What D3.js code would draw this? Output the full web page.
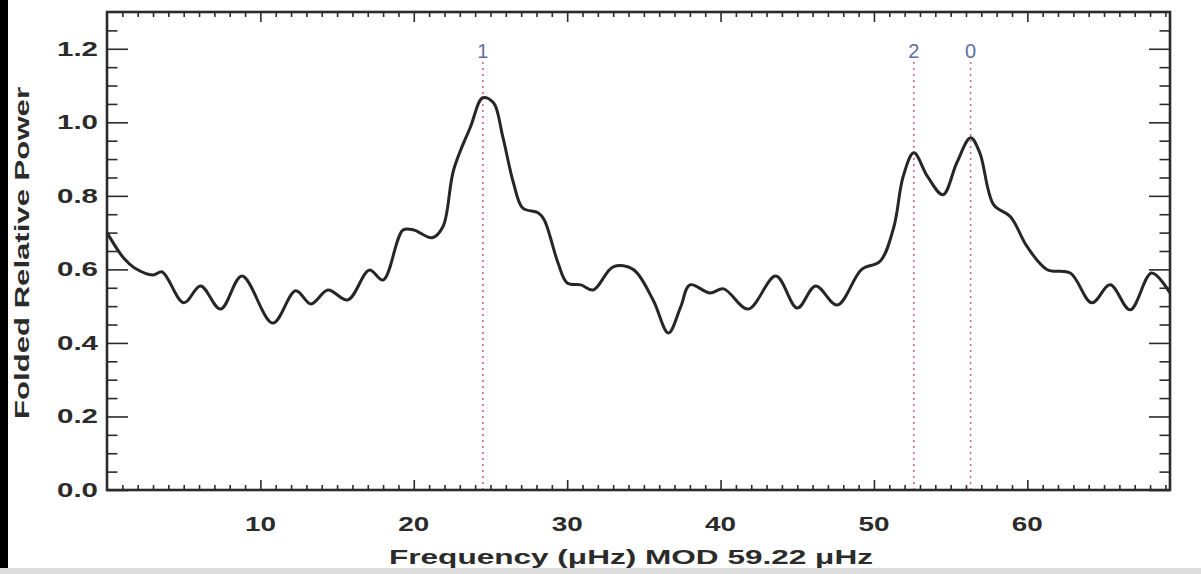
<!DOCTYPE html>
<html>
<head>
<meta charset="utf-8">
<script src="https://cdn.jsdelivr.net/npm/d3@7"></script>
<style>
  html, body { margin: 0; padding: 0; background: #fff; }
  svg { display: block; }
</style>
</head>
<body>
<svg id="chart" width="1201" height="574"></svg>
<script>
// ---- data ----
const freq = [0.0, 1.1, 1.8, 3.0, 3.6, 5.0, 6.1, 7.4, 8.8, 10.8, 12.3, 13.3, 14.4, 15.7, 17.1, 18.0,
  19.3, 20.0, 21.2, 21.9, 22.6, 23.7, 24.5, 25.2, 25.8, 26.5, 27.1, 28.1, 28.5, 29.4, 30.0, 30.9,
  31.7, 33.0, 34.3, 35.6, 36.6, 37.4, 38.0, 39.3, 40.2, 41.8, 43.6, 45.0, 46.2, 47.6, 49.2, 50.4,
  51.3, 51.9, 52.6, 53.5, 54.5, 55.4, 56.3, 56.9, 57.8, 58.9, 60.0, 61.3, 62.8, 64.2, 65.4, 66.7,
  68.1, 69.3];
const power = [0.70, 0.63, 0.604, 0.585, 0.593, 0.509, 0.555, 0.492, 0.582, 0.454, 0.542, 0.506, 0.544, 0.517, 0.598, 0.571,
  0.707, 0.707, 0.686, 0.716, 0.871, 0.988, 1.067, 1.053, 0.961, 0.835, 0.767, 0.754, 0.735, 0.618, 0.563, 0.558,
  0.544, 0.607, 0.600, 0.517, 0.427, 0.498, 0.558, 0.536, 0.547, 0.492, 0.582, 0.495, 0.555, 0.503, 0.600, 0.622,
  0.716, 0.852, 0.917, 0.852, 0.803, 0.890, 0.958, 0.917, 0.776, 0.743, 0.661, 0.599, 0.590, 0.509, 0.558, 0.490,
  0.590, 0.536];
const modeFreqs = [24.5, 52.6, 56.3];
const modeLabels = ["1", "2", "0"];
const xTicks = [10, 20, 30, 40, 50, 60];
const yTicks = [0.0, 0.2, 0.4, 0.6, 0.8, 1.0, 1.2];
const xDomain = [0, 69.3];
const yDomain = [0, 1.3];
const xTitle = "Frequency (\u03bcHz) MOD 59.22 \u03bcHz";
const yTitle = "Folded Relative Power";

// ---- layout ----
const L = 107, R = 1170, T = 12, B = 490;
const svg = d3.select("#chart");
const x = d3.scaleLinear().domain(xDomain).range([L, R]);
const y = d3.scaleLinear().domain(yDomain).range([B, T]);

// page edges seen in the photo
svg.append("rect").attr("x", 0).attr("y", 0).attr("width", 8).attr("height", 574).attr("fill", "#000");
svg.append("rect").attr("x", 0).attr("y", 568).attr("width", 1201).attr("height", 6).attr("fill", "#dcdcdc");

const ink = "#2b2b2b";
const font = "'Liberation Sans', Arial, sans-serif";

// mode marker lines
svg.append("g").selectAll("line").data(modeFreqs).join("line")
  .attr("x1", d => x(d)).attr("x2", d => x(d))
  .attr("y1", 62).attr("y2", B)
  .attr("stroke", "#c8506a").attr("stroke-width", 1.6)
  .attr("stroke-dasharray", "2,4").attr("opacity", 0.85);

svg.append("g").selectAll("text").data(modeFreqs).join("text")
  .attr("x", d => x(d)).attr("y", 58)
  .attr("text-anchor", "middle")
  .attr("font-family", font).attr("font-size", 20)
  .attr("fill", "#5f6e9e")
  .text((d, i) => modeLabels[i]);

// curve
const line = d3.line().x(d => x(d[0])).y(d => y(d[1])).curve(d3.curveCatmullRom.alpha(0.5));
svg.append("path")
  .datum(freq.map((f, i) => [f, power[i]]))
  .attr("d", line)
  .attr("fill", "none").attr("stroke", "#262626").attr("stroke-width", 3)
  .attr("stroke-linejoin", "round");

// axes with inward ticks on all four sides
const xMinor = d3.range(1, 70, 1).filter(v => v % 10 !== 0);
const yMinor = d3.range(0.05, 1.3, 0.05).filter(v => Math.abs(v * 5 - Math.round(v * 5)) > 1e-6);
const xMajLen = 10, xMinLen = 5, yMajLen = 21, yMinLen = 10.5;

function bare(g) { g.select(".domain").remove(); g.selectAll("text").remove(); g.selectAll("line").attr("stroke", ink).attr("stroke-width", 1.6); }

svg.append("g").attr("transform", `translate(0,${B})`)
  .call(d3.axisBottom(x).tickValues(xTicks).tickSizeInner(-xMajLen).tickSizeOuter(0)).call(bare);
svg.append("g").attr("transform", `translate(0,${B})`)
  .call(d3.axisBottom(x).tickValues(xMinor).tickSizeInner(-xMinLen).tickSizeOuter(0)).call(bare);
svg.append("g").attr("transform", `translate(0,${T})`)
  .call(d3.axisTop(x).tickValues(xTicks).tickSizeInner(-xMajLen).tickSizeOuter(0)).call(bare);
svg.append("g").attr("transform", `translate(0,${T})`)
  .call(d3.axisTop(x).tickValues(xMinor).tickSizeInner(-xMinLen).tickSizeOuter(0)).call(bare);
svg.append("g").attr("transform", `translate(${L},0)`)
  .call(d3.axisLeft(y).tickValues(yTicks).tickSizeInner(-yMajLen).tickSizeOuter(0)).call(bare);
svg.append("g").attr("transform", `translate(${L},0)`)
  .call(d3.axisLeft(y).tickValues(yMinor).tickSizeInner(-yMinLen).tickSizeOuter(0)).call(bare);
svg.append("g").attr("transform", `translate(${R},0)`)
  .call(d3.axisRight(y).tickValues(yTicks).tickSizeInner(-yMajLen).tickSizeOuter(0)).call(bare);
svg.append("g").attr("transform", `translate(${R},0)`)
  .call(d3.axisRight(y).tickValues(yMinor).tickSizeInner(-yMinLen).tickSizeOuter(0)).call(bare);

// frame
svg.append("rect").attr("x", L).attr("y", T).attr("width", R - L).attr("height", B - T)
  .attr("fill", "none").attr("stroke", ink).attr("stroke-width", 2.6);

// tick labels
svg.append("g").selectAll("text").data(xTicks).join("text")
  .attr("x", d => x(d)).attr("y", 531)
  .attr("text-anchor", "middle")
  .attr("font-family", font).attr("font-weight", "bold").attr("font-size", 20)
  .attr("fill", ink)
  .attr("textLength", 31).attr("lengthAdjust", "spacingAndGlyphs")
  .text(d => d);

svg.append("g").selectAll("text").data(yTicks).join("text")
  .attr("x", 98).attr("y", d => y(d) + 7)
  .attr("text-anchor", "end")
  .attr("font-family", font).attr("font-weight", "bold").attr("font-size", 20)
  .attr("fill", ink)
  .attr("textLength", 41).attr("lengthAdjust", "spacingAndGlyphs")
  .text(d => d.toFixed(1));

// axis titles
svg.append("text")
  .attr("x", 631).attr("y", 564)
  .attr("text-anchor", "middle")
  .attr("font-family", font).attr("font-weight", "bold").attr("font-size", 20)
  .attr("fill", ink)
  .attr("textLength", 484).attr("lengthAdjust", "spacingAndGlyphs")
  .text(xTitle);

svg.append("text")
  .attr("transform", "translate(29,253) rotate(-90)")
  .attr("text-anchor", "middle")
  .attr("font-family", font).attr("font-weight", "bold").attr("font-size", 20)
  .attr("fill", ink)
  .attr("textLength", 332).attr("lengthAdjust", "spacingAndGlyphs")
  .text(yTitle);
</script>
</body>
</html>
